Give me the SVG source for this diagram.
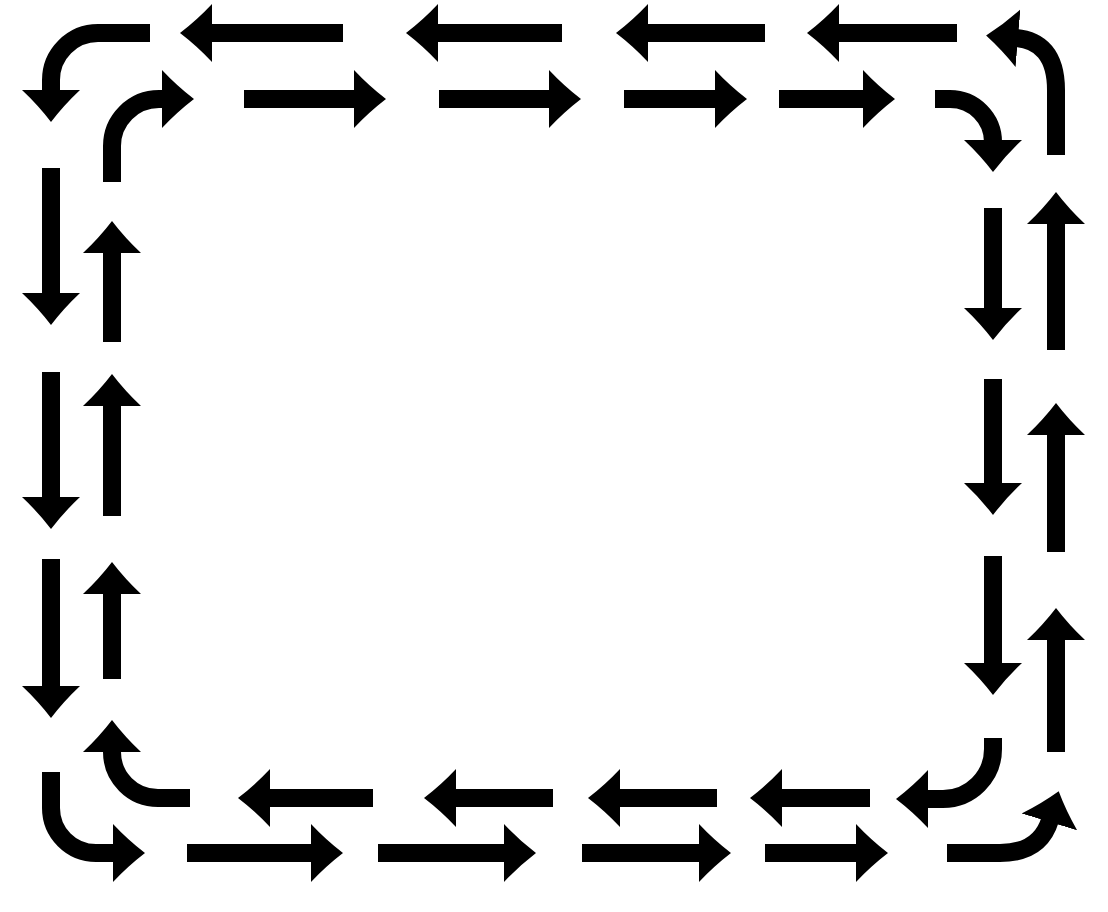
<svg xmlns="http://www.w3.org/2000/svg" width="1108" height="912" viewBox="0 0 1108 912">
  <style>
    .a { fill: none; stroke: #000; stroke-width: 18; stroke-linecap: butt; marker-end: url(#ah); }
  </style>
  <defs>
    <marker id="ah" markerUnits="userSpaceOnUse" markerWidth="33" markerHeight="60" viewBox="0 0 33 60" refX="2" refY="30" orient="auto">
      <path d="M0,1 Q15,17 32,30 Q15,43 0,59 Z" fill="#000"/>
    </marker>
  </defs>
  <rect width="1108" height="912" fill="#fff"/>
  <g id="connectors">
    <g id="top-outer">
      <path class="a" d="M150,33 H98 A47,47 0 0 0 51,80 V92"/>
      <path class="a" d="M343,33 H210"/>
      <path class="a" d="M562,33 H436"/>
      <path class="a" d="M765,33 H646"/>
      <path class="a" d="M957,33 H837"/>
      <path class="a" d="M1056,155 V90 C1056,55 1040,40 1016,38"/>
    </g>
    <g id="top-inner">
      <path class="a" d="M112,182 V146 A47,47 0 0 1 159,99 H164"/>
      <path class="a" d="M244,99 H356"/>
      <path class="a" d="M439,99 H551"/>
      <path class="a" d="M624,99 H717"/>
      <path class="a" d="M779,99 H865"/>
      <path class="a" d="M935,99 H950 A43,43 0 0 1 993,142"/>
    </g>
    <g id="left-outer">
      <path class="a" d="M51,168 V295"/>
      <path class="a" d="M51,372 V499"/>
      <path class="a" d="M51,559 V688"/>
      <path class="a" d="M51,772 V808 A45,45 0 0 0 96,853 H115"/>
    </g>
    <g id="left-inner">
      <path class="a" d="M112,342 V251"/>
      <path class="a" d="M112,516 V404"/>
      <path class="a" d="M112,679 V592"/>
      <path class="a" d="M190,798 H158 A46,46 0 0 1 112,752 V750"/>
    </g>
    <g id="bottom-inner">
      <path class="a" d="M373,798 H268"/>
      <path class="a" d="M553,798 H454"/>
      <path class="a" d="M717,798 H618"/>
      <path class="a" d="M870,798 H780"/>
      <path class="a" d="M993,738 V749 A50,50 0 0 1 943,799 H926"/>
    </g>
    <g id="bottom-outer">
      <path class="a" d="M187,853 H313"/>
      <path class="a" d="M378,853 H506"/>
      <path class="a" d="M582,853 H701"/>
      <path class="a" d="M765,853 H858"/>
      <path class="a" d="M947,853 H1000 Q1040,853 1050,820"/>
    </g>
    <g id="right-outer">
      <path class="a" d="M1056,350 V222"/>
      <path class="a" d="M1056,552 V433"/>
      <path class="a" d="M1056,752 V638"/>
    </g>
    <g id="right-inner">
      <path class="a" d="M993,208 V310"/>
      <path class="a" d="M993,379 V485"/>
      <path class="a" d="M993,556 V665"/>
    </g>
  </g>
</svg>
